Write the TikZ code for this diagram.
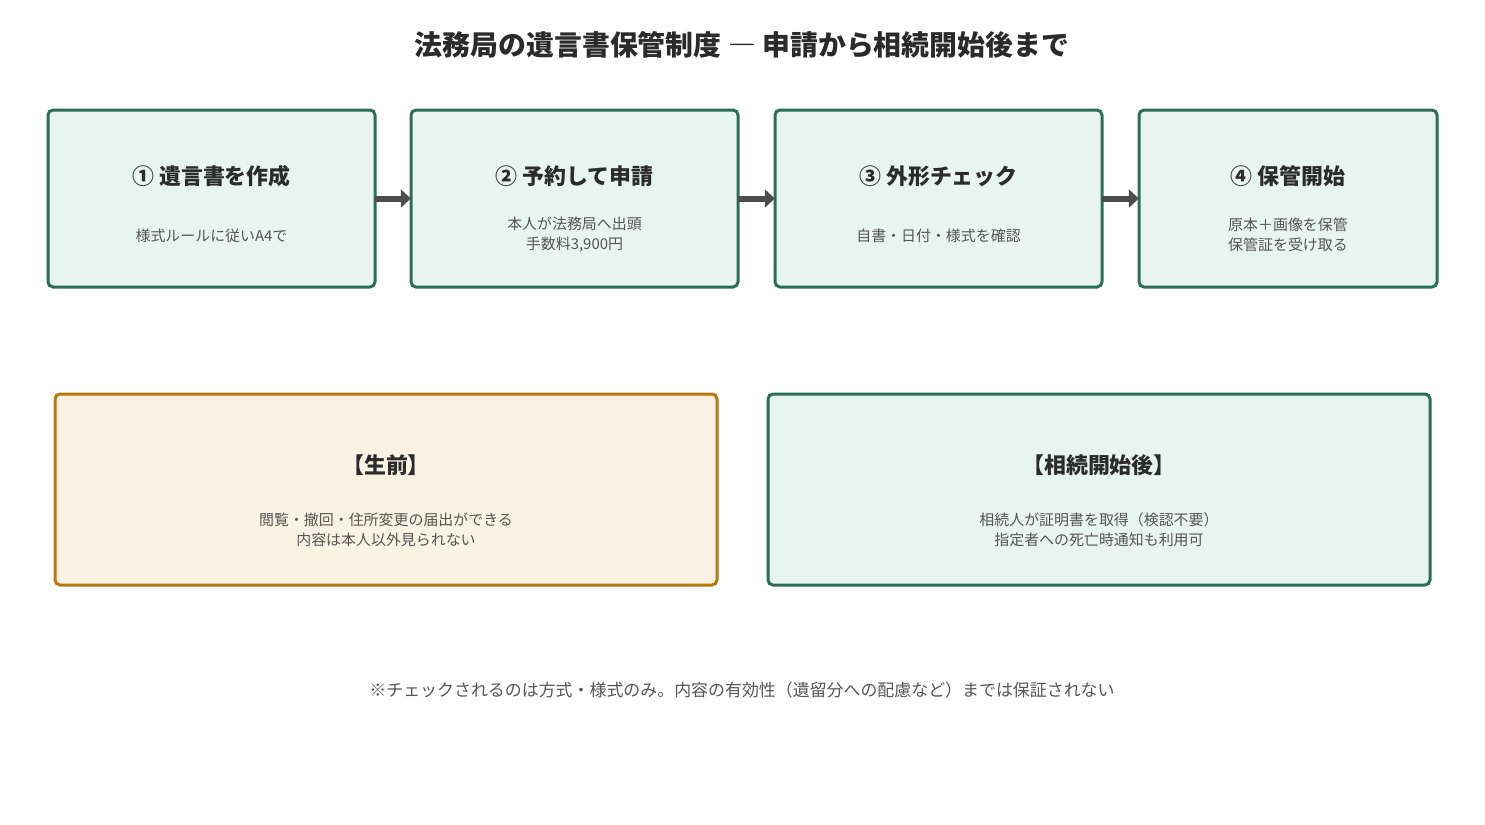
\documentclass[tikz,border=0pt]{standalone}
\usepackage{fontspec}
\setmainfont{Noto Sans CJK JP}
\usepackage{tikz}
\usetikzlibrary{positioning, arrows.meta}
\definecolor{boxgreen}{HTML}{E8F4EF}
\definecolor{linegreen}{HTML}{2A6E5A}
\definecolor{boxcream}{HTML}{FBF2E3}
\definecolor{lineamber}{HTML}{B8770F}
\definecolor{textdark}{HTML}{2B2B2B}
\definecolor{textgray}{HTML}{555555}
\tikzset{
  stepbox/.style={draw=linegreen, fill=boxgreen, line width=3bp, rounded corners=5bp},
  phasebox/.style={stepbox},
  phaseold/.style={draw=lineamber, fill=boxcream, line width=3bp, rounded corners=5bp},
  head/.style={font=\fontsize{22}{26}\selectfont\bfseries, text=textdark},
  sub/.style={font=\fontsize{15}{20}\selectfont, text=textgray, align=center},
  flow/.style={-{Triangle[length=10bp,width=18bp]}, line width=6bp, draw=textgray!90!black}
}
\begin{document}
\begin{tikzpicture}[x=1bp,y=-1bp]
  \useasboundingbox (0,0) rectangle (1485,824);
  % title
  \node (title) [font=\fontsize{28}{32}\selectfont\bfseries, text=textdark] at (742,45)
    {法務局の遺言書保管制度 ― 申請から相続開始後まで};
  % steps
  \draw [stepbox] (48,110) rectangle (375,287);
  \node (b1) [minimum width=327bp, minimum height=177bp] at (211.5,198.5) {};
  \draw [stepbox] (411,110) rectangle (738,287);
  \node (b2) [minimum width=327bp, minimum height=177bp] at (574.5,198.5) {};
  \draw [stepbox] (775,110) rectangle (1102,287);
  \node (b3) [minimum width=327bp, minimum height=177bp] at (938.5,198.5) {};
  \draw [stepbox] (1139,110) rectangle (1437,287);
  \node (b4) [minimum width=298bp, minimum height=177bp] at (1288,198.5) {};
  \node [head] at (211.5,176) {① 遺言書を作成};
  \node [sub] at (211.5,236) {様式ルールに従いA4で};
  \node [head] at (574.5,176) {② 予約して申請};
  \node [sub] at (574.5,235) {本人が法務局へ出頭\\手数料3,900円};
  \node [head] at (938.5,176) {③ 外形チェック};
  \node [sub] at (938.5,236) {自書・日付・様式を確認};
  \node [head] at (1288,176) {④ 保管開始};
  \node [sub] at (1288,235) {原本＋画像を保管\\保管証を受け取る};
  % arrows
  \draw [flow] (b1.east) -- (b2.west);
  \draw [flow] (b2.east) -- (b3.west);
  \draw [flow] (b3.east) -- (b4.west);
  % phases
  \draw [phaseold] (55,394) rectangle (717,585);
  \node (pre) [head] at (386,465) {【生前】};
  \node [sub] at (386,530) {閲覧・撤回・住所変更の届出ができる\\内容は本人以外見られない};
  \draw [phasebox] (768,394) rectangle (1430,585);
  \node (post) [head] at (1099,465) {【相続開始後】};
  \node [sub] at (1099,530) {相続人が証明書を取得（検認不要）\\指定者への死亡時通知も利用可};
  % note
  \node (note) [font=\fontsize{17}{20}\selectfont, text=textgray] at (742,690)
    {※チェックされるのは方式・様式のみ。内容の有効性（遺留分への配慮など）までは保証されない};
\end{tikzpicture}
\end{document}
